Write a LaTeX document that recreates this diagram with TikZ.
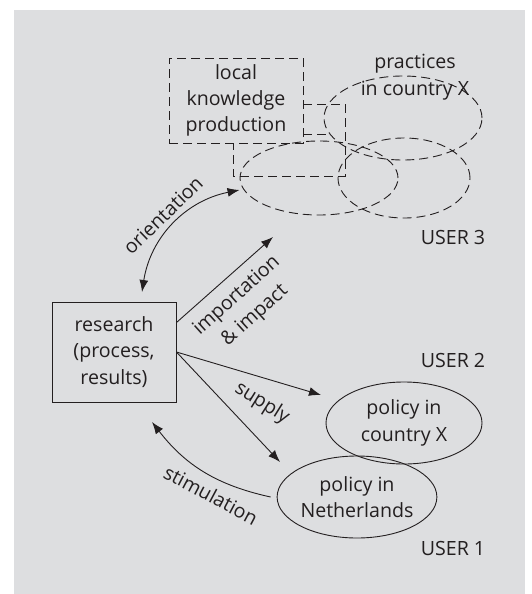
\documentclass[tikz,border=0pt]{standalone}
\usepackage{fontspec}
\setmainfont{Open Sans}
\usetikzlibrary{arrows.meta,shapes.geometric}
\definecolor{panel}{RGB}{221,222,224}
\definecolor{ink}{RGB}{35,31,32}
\tikzset{
    every node/.style={text=ink,font=\fontsize{9.8}{13.2}\selectfont},
    box/.style={draw=ink,line width=0.45pt,rectangle,align=center,inner sep=0pt},
    oval/.style={draw=ink,line width=0.45pt,ellipse,align=center,inner sep=0pt},
    dashline/.style={draw=ink,line width=0.45pt,dash pattern=on 4.5pt off 2.5pt},
    link/.style={draw=ink,line width=0.45pt,-{Latex[length=6pt,width=4.5pt]}},
}
\begin{document}
\begin{tikzpicture}[x=0.5pt,y=-0.5pt]
        %% background panel
        \useasboundingbox (0,0) rectangle (531,594);
        \fill[panel] (14,10) rectangle (525,594);
        %% research box
        \node[box,minimum width=62pt,minimum height=50pt] (research) at (114,352) {research\\(process,\\results)};
        %% user 3: local production and practices
        \node[box,dashline,minimum width=67pt,minimum height=42.5pt] (local) at (236,100.5) {local\\knowledge\\production};
        \draw[dashline] (local.north east |- 0,104) -- (345,104) -- (345,176) -- (233,176) -- (233,143);
        \draw[dashline] (local.north east |- 0,134) -- (327,134);
        \node[oval,dashline,minimum width=79pt,minimum height=37pt] (usea) at (319,178) {};
        \node[oval,dashline,minimum width=66pt,minimum height=40pt] (useb) at (404,178) {};
        \node[oval,dashline,minimum width=79pt,minimum height=42pt] (usec) at (403,118) {};
        \node[align=center] (practices) at (415,77) {practices\\in country X};
        %% users 1 and 2: policy
        \node[oval,minimum width=78pt,minimum height=41pt] (polx) at (404,423) {policy in\\country X};
        \node[oval,minimum width=78pt,minimum height=41pt] (polnl) at (357,497) {policy in\\Netherlands};
        \foreach \n/\y in {3/237,2/360,1/548}
            \node (user\n) at (453,\y) {USER \n};
        %% arrow ends
        \coordinate (orient) at (142,292);
        \coordinate (import) at (273,237);
        \coordinate (supplyx) at (321,395);
        \coordinate (supplynl) at (280,462);
        \coordinate (stim) at (152,422);
        %% arrows
        \draw[link,{Latex[length=6pt,width=4.5pt]}-{Latex[length=6pt,width=4.5pt]}] (orient) to[bend left=35] (usea.west |- 0,190);
        \draw[link] ([yshift=-10.5pt]research.north east) -- (import);
        \draw[link] (research.east) -- (supplyx);
        \draw[link] (research.east) -- (supplynl);
        \draw[link] ([xshift=-3pt]polnl.west) to[bend left=20] (stim);
        %% labels
        \node[rotate=44] (orientation) at (163,215) {orientation};
        \node[rotate=42] (importation) at (237,296) {importation};
        \node[rotate=42] (impact) at (255,316) {\& impact};
        \node[rotate=-32] (supply) at (262,403) {supply};
        \node[rotate=-28] (stimulation) at (211,495) {stimulation};
    \end{tikzpicture}
\end{document}
